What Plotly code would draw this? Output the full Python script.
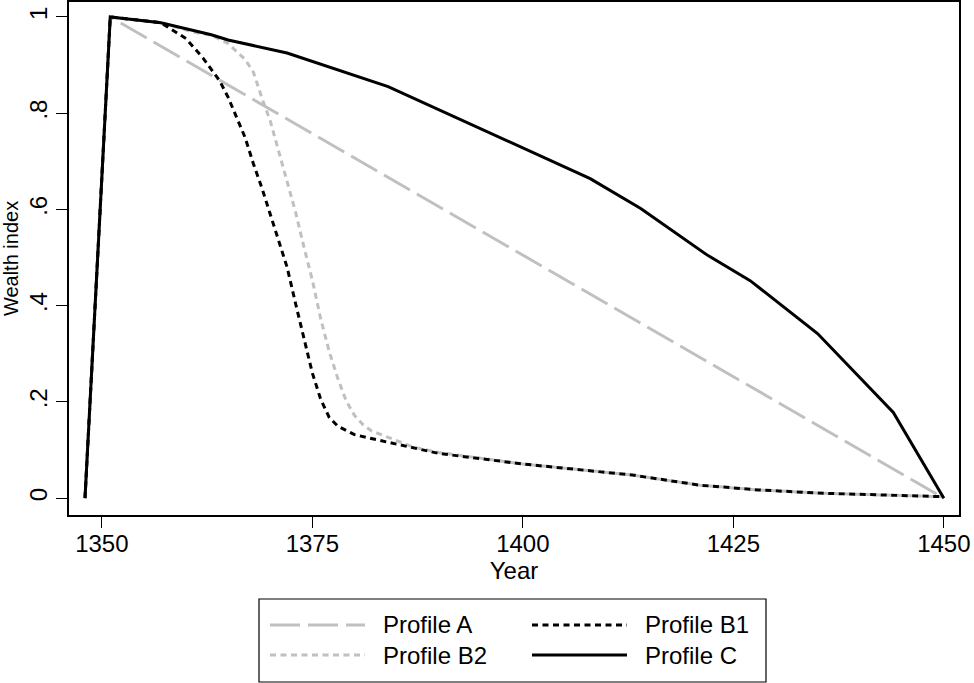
import plotly.graph_objects as go

# ---- data ----
years_a = [1348, 1351, 1450]
vals_a = [0, 1.0, 0]

years_b1 = [1348, 1351, 1357, 1360, 1362, 1364, 1365, 1366, 1367, 1368, 1369, 1370, 1371,
            1372, 1373, 1374, 1375, 1376, 1377, 1378, 1380, 1383, 1387, 1390, 1400, 1408,
            1413, 1421, 1428, 1436, 1450]
vals_b1 = [0, 1.0, 0.988, 0.955, 0.915, 0.867, 0.833, 0.79, 0.75, 0.695, 0.645, 0.59, 0.535,
           0.48, 0.405, 0.33, 0.26, 0.205, 0.168, 0.15, 0.132, 0.12, 0.104, 0.093, 0.071, 0.057,
           0.048, 0.027, 0.017, 0.010, 0.003]

years_b2 = [1348, 1351, 1357, 1361, 1363, 1365, 1366, 1367, 1368, 1369, 1370, 1371, 1372,
            1373, 1374, 1375, 1376, 1377, 1378, 1379, 1380, 1381, 1382, 1384, 1387, 1390, 1400,
            1408, 1413, 1421, 1428, 1436, 1450]
vals_b2 = [0, 1.0, 0.988, 0.968, 0.962, 0.945, 0.928, 0.912, 0.885, 0.832, 0.784, 0.72, 0.657,
           0.595, 0.522, 0.453, 0.372, 0.305, 0.25, 0.203, 0.172, 0.153, 0.14, 0.126, 0.106, 0.095,
           0.071, 0.057, 0.048, 0.027, 0.017, 0.010, 0.003]

years_c = [1348, 1351, 1357, 1363, 1365, 1372, 1384, 1408, 1414, 1422, 1427, 1435, 1444, 1450]
vals_c = [0, 1.0, 0.988, 0.963, 0.952, 0.925, 0.855, 0.664, 0.602, 0.504, 0.452, 0.342, 0.178, 0]

y_tickvals = [0, 0.2, 0.4, 0.6, 0.8, 1.0]
y_ticktext = ["0", ".2", ".4", ".6", ".8", "1"]
x_tickvals = [1350, 1375, 1400, 1425, 1450]

names = ["Profile A", "Profile B1", "Profile B2", "Profile C"]

# ---- styles ----
GRAY = "#c0c0c0"
styles = {
    "Profile A": dict(color=GRAY, width=3, dash="30px,8px"),
    "Profile B1": dict(color="black", width=3, dash="6px,4.5px"),
    "Profile B2": dict(color=GRAY, width=3, dash="6px,4.5px"),
    "Profile C": dict(color="black", width=3, dash="solid"),
}
FONT = "Liberation Sans, Arial, Helvetica, sans-serif"

fig = go.Figure()
for nm, xs, ys in [("Profile A", years_a, vals_a),
                   ("Profile B2", years_b2, vals_b2),
                   ("Profile B1", years_b1, vals_b1),
                   ("Profile C", years_c, vals_c)]:
    fig.add_trace(go.Scatter(x=xs, y=ys, mode="lines", name=nm,
                             line=styles[nm], showlegend=False))

# ---- manual legend (paper coords) ----
L, R, T, B = 69, 15, 2, 168
W, H = 974, 683
pw, ph = W - L - R, H - T - B


def px(xp):
    return (xp - L) / pw


def py(yp):
    return (H - B - yp) / ph


shapes = [dict(type="rect", xref="paper", yref="paper",
               x0=px(259), x1=px(766), y0=py(682), y1=py(599),
               line=dict(color="black", width=1.2), fillcolor="white")]
annotations = []
legend_pos = [("Profile A", 270, 625), ("Profile B1", 532, 625),
              ("Profile B2", 270, 655), ("Profile C", 532, 655)]
for nm, x0, yy in legend_pos:
    st = styles[nm]
    shapes.append(dict(type="line", xref="paper", yref="paper",
                       x0=px(x0), x1=px(x0 + 95), y0=py(yy), y1=py(yy),
                       line=dict(color=st["color"], width=st["width"], dash=st["dash"])))
    annotations.append(dict(xref="paper", yref="paper", x=px(x0 + 111), y=py(yy),
                            text=nm, showarrow=False, xanchor="left", yanchor="middle",
                            font=dict(family=FONT, size=24, color="black")))

fig.update_layout(
    width=W, height=H,
    margin=dict(l=L, r=R, t=T, b=B, autoexpand=False),
    paper_bgcolor="white", plot_bgcolor="white",
    font=dict(family=FONT, size=24, color="black"),
    shapes=shapes, annotations=annotations,
    showlegend=False,
)
fig.update_xaxes(
    range=[1346.1, 1451.8], tickvals=x_tickvals, automargin=False,
    showline=True, mirror=True, linecolor="black", linewidth=1.5,
    ticks="outside", ticklen=11, tickwidth=1.2, tickcolor="black",
    showgrid=False, zeroline=False,
    tickfont=dict(size=24), ticklabelstandoff=-5,
    title=dict(text="Year", font=dict(size=24), standoff=0),
)
fig.update_yaxes(
    range=[-0.035, 1.031], tickvals=y_tickvals, ticktext=y_ticktext,
    tickangle=-90, automargin=False,
    showline=True, mirror=True, linecolor="black", linewidth=1.5,
    ticks="outside", ticklen=11, tickwidth=1.2, tickcolor="black",
    showgrid=False, zeroline=False,
    tickfont=dict(size=24),
    title=dict(text="Wealth index", font=dict(size=20), standoff=2),
)

fig.write_html("out.html", config={"displayModeBar": False},
               post_script="document.body.style.margin='0px';document.body.style.padding='0px';")
